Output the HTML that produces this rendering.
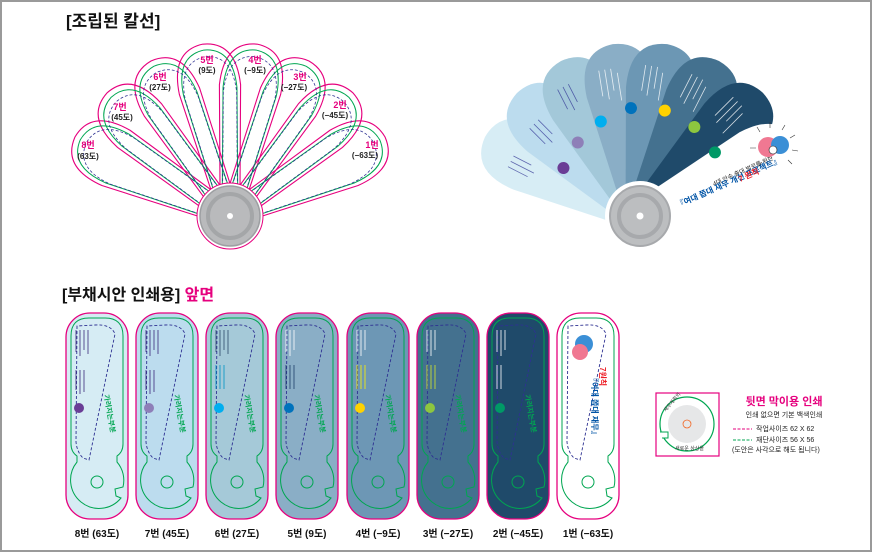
<!DOCTYPE html>
<html><head><meta charset="utf-8"><style>
html,body{margin:0;padding:0;background:#fff}
body{width:872px;height:552px;overflow:hidden;font-family:"Liberation Sans","Noto Sans CJK KR",sans-serif}
svg text{font-family:"Liberation Sans","Noto Sans CJK KR",sans-serif}
</style></head><body>
<svg width="872" height="552" viewBox="0 0 872 552" xmlns="http://www.w3.org/2000/svg">
<defs>
<path id="bl" d="M-9 6 L-31 -128 Q-33 -172 0 -174 Q33 -172 31 -128 L9 6 Z"/>
<path id="blg" d="M-8 0 L-27 -126 Q-29 -166 0 -168 Q29 -166 27 -126 L8 0 Z"/>
<path id="blr" d="M-14 4 L-34 -125 Q-37 -172 0 -174 Q37 -172 34 -125 L14 4 Z"/>
<g id="card">
<rect x="1" y="1" width="62" height="206" rx="24" fill="none" stroke="#e6007e" stroke-width="1.3"/>
<path d="M6,24 Q6,6 24,6 L40,6 Q58,6 58,24 L58,132 Q58,140 52,144 L52,150 A28 28 0 0 1 58 175 L50 177 L51 184 L56 186 A28 28 0 1 1 12 150 L12,144 Q6,140 6,132 Z" fill="none" stroke="#00a651" stroke-width="1"/>
<circle cx="32" cy="170" r="6" fill="none" stroke="#00a651" stroke-width="1"/>
<path d="M12,14 L11,130 Q12,140 18,146 L24,148 L50,22 Q46,12 30,13 Z" fill="none" stroke="#2e3192" stroke-width="0.9" stroke-dasharray="3,2"/>
</g>
</defs>
<rect x="1" y="1" width="870" height="550" fill="#fff" stroke="#9a9a9a" stroke-width="2"/>

<text x="66" y="27" font-size="17" font-weight="bold" fill="#111">[조립된 칼선]</text>

<!-- left fan -->
<g transform="translate(230,216)" fill="none">
<g stroke="#e6007e" stroke-width="1.1">
<use href="#bl" transform="rotate(-63)"/><use href="#bl" transform="rotate(-45)"/><use href="#bl" transform="rotate(-27)"/><use href="#bl" transform="rotate(-9)"/>
<use href="#bl" transform="rotate(9)"/><use href="#bl" transform="rotate(27)"/><use href="#bl" transform="rotate(45)"/><use href="#bl" transform="rotate(63)"/>
</g>
<g stroke="#00a651" stroke-width="1">
<use href="#blg" transform="rotate(-63)"/><use href="#blg" transform="rotate(-45)"/><use href="#blg" transform="rotate(-27)"/><use href="#blg" transform="rotate(-9)"/>
<use href="#blg" transform="rotate(9)"/><use href="#blg" transform="rotate(27)"/><use href="#blg" transform="rotate(45)"/><use href="#blg" transform="rotate(63)"/>
</g>
<g stroke="#2e3192" stroke-width="0.8" stroke-dasharray="3,2" transform="scale(0.96)">
<use href="#blg" transform="rotate(-63)"/><use href="#blg" transform="rotate(-45)"/><use href="#blg" transform="rotate(-27)"/><use href="#blg" transform="rotate(-9)"/>
<use href="#blg" transform="rotate(9)"/><use href="#blg" transform="rotate(27)"/><use href="#blg" transform="rotate(45)"/><use href="#blg" transform="rotate(63)"/>
</g>
<circle r="33" fill="#fff" stroke="#e6007e" stroke-width="1"/>
<circle r="30" fill="#b9babc" stroke="#9d9fa2" stroke-width="1.5"/>
<circle r="22" fill="none" stroke="#a4a6a8" stroke-width="4"/>
<circle r="3" fill="#fff"/>
</g>
<g font-size="9" font-weight="bold" text-anchor="middle">
<g fill="#e6007e">
<text x="207" y="63">5번</text><text x="255" y="63">4번</text><text x="160" y="80">6번</text><text x="300" y="80">3번</text>
<text x="120" y="110">7번</text><text x="340" y="108">2번</text><text x="88" y="148">8번</text><text x="372" y="148">1번</text></g>
<g fill="#222" font-size="8">
<text x="207" y="73">(9도)</text><text x="255" y="73">(−9도)</text><text x="160" y="90">(27도)</text><text x="294" y="90">(−27도)</text>
<text x="122" y="120">(45도)</text><text x="335" y="118">(−45도)</text><text x="88" y="159">(63도)</text><text x="365" y="158">(−63도)</text></g>
</g>

<!-- right fan -->
<g transform="translate(640,216)">
<use href="#blr" fill="#d7edf5" transform="rotate(-63)"/>
<use href="#blr" fill="#bcdcee" transform="rotate(-45)"/>
<use href="#blr" fill="#a3c8d9" transform="rotate(-27)"/>
<use href="#blr" fill="#8aaec6" transform="rotate(-9)"/>
<use href="#blr" fill="#6c97b4" transform="rotate(9)"/>
<use href="#blr" fill="#44718f" transform="rotate(27)"/>
<use href="#blr" fill="#1f4a6a" transform="rotate(45)"/>
<path d="M-14 4 L-36 -125 Q-39 -172 0 -174 Q39 -172 36 -125 L14 4 Z" fill="#fff" transform="rotate(66)"/>
<circle r="35" fill="#fff"/>
<circle r="30" fill="#bcbec0" stroke="#a7a9ac" stroke-width="2"/>
<circle r="21" fill="none" stroke="#a7a9ac" stroke-width="4"/>
<circle r="3.5" fill="#fff"/>
<g>
<g transform="rotate(-63)"><circle cx="8" cy="-90" r="6" fill="#6a3d96"/></g>
<g transform="rotate(-45)"><circle cx="8" cy="-96" r="6" fill="#8e7fb8"/></g>
<g transform="rotate(-27)"><circle cx="8" cy="-102" r="6" fill="#00aeef"/></g>
<g transform="rotate(-9)"><circle cx="8" cy="-108" r="6" fill="#0072bc"/></g>
<g transform="rotate(9)"><circle cx="8" cy="-108" r="6" fill="#ffd200"/></g>
<g transform="rotate(27)"><circle cx="8" cy="-104" r="6" fill="#8dc63f"/></g>
<g transform="rotate(45)"><circle cx="8" cy="-98" r="6" fill="#009966"/></g>
</g>
<g stroke="#fff" stroke-width="0.8" opacity="0.8">
<g transform="rotate(-9)"><path d="M-18 -150 v26 M-12 -150 v30 M-6 -150 v22 M0 -145 v28"/></g>
<g transform="rotate(9)"><path d="M-18 -150 v26 M-12 -150 v30 M-6 -150 v22 M0 -145 v28"/></g>
<g transform="rotate(27)"><path d="M-18 -150 v26 M-12 -150 v30 M-6 -150 v22 M0 -145 v28"/></g>
<g transform="rotate(45)"><path d="M-18 -150 v26 M-12 -150 v30 M-6 -150 v22 M0 -145 v28"/></g>
</g>
<g stroke="#2e3192" stroke-width="0.8" opacity="0.7">
<g transform="rotate(-63)"><path d="M-16 -140 v22 M-10 -140 v26 M-4 -140 v20"/></g>
<g transform="rotate(-45)"><path d="M-16 -140 v22 M-10 -140 v26 M-4 -140 v20"/></g>
<g transform="rotate(-27)"><path d="M-16 -150 v22 M-10 -150 v26 M-4 -150 v20"/></g>
</g>
</g>
<text x="714" y="186" font-size="6" fill="#222" transform="rotate(-24 714 186)">4대 안속 출대 벌로를 위한</text>
<text x="678" y="208" font-size="8" font-weight="bold" fill="#0054a6" transform="rotate(-24 678 208)">『여대 쫍대 재무 개선 프로젝트』</text>
<text x="740" y="182" font-size="8" font-weight="bold" fill="#ed1c24" transform="rotate(-24 740 182)">7 원칙</text>
<circle cx="768" cy="147" r="10" fill="#f07892"/><circle cx="780" cy="145" r="9" fill="#3b8fd6"/>
<circle cx="773" cy="150" r="4" fill="#fff" stroke="#222" stroke-width="0.6"/>
<g stroke="#333" stroke-width="0.6"><path d="M760 132 l-3 -5 M770 128 l0 -6 M782 130 l3 -5 M790 138 l5 -3 M792 150 l6 1 M788 160 l4 4 M762 162 l-3 4 M756 148 l-6 0"/></g>

<!-- bottom section -->
<text x="62" y="300" font-size="16" font-weight="bold" fill="#111">[부채시안 인쇄용] <tspan fill="#e6007e">앞면</tspan></text>

<g>
<g transform="translate(65,312)"><rect x="1" y="1" width="62" height="206" rx="24" fill="#d6ecf4"/><use href="#card"/><circle cx="14" cy="96" r="5" fill="#6a3d96"/></g>
<g transform="translate(135,312)"><rect x="1" y="1" width="62" height="206" rx="24" fill="#bcdcee"/><use href="#card"/><circle cx="14" cy="96" r="5" fill="#8e7fb8"/></g>
<g transform="translate(205,312)"><rect x="1" y="1" width="62" height="206" rx="24" fill="#a5c9d8"/><use href="#card"/><circle cx="14" cy="96" r="5" fill="#00aeef"/></g>
<g transform="translate(275,312)"><rect x="1" y="1" width="62" height="206" rx="24" fill="#8aaec6"/><use href="#card"/><circle cx="14" cy="96" r="5" fill="#0072bc"/></g>
<g transform="translate(346,312)"><rect x="1" y="1" width="62" height="206" rx="24" fill="#6d97b5"/><use href="#card"/><circle cx="14" cy="96" r="5" fill="#ffd200"/></g>
<g transform="translate(416,312)"><rect x="1" y="1" width="62" height="206" rx="24" fill="#44718f"/><use href="#card"/><circle cx="14" cy="96" r="5" fill="#8dc63f"/></g>
<g transform="translate(486,312)"><rect x="1" y="1" width="62" height="206" rx="24" fill="#1f4a6a"/><use href="#card"/><circle cx="14" cy="96" r="5" fill="#009966"/></g>
<g transform="translate(556,312)"><rect x="1" y="1" width="62" height="206" rx="24" fill="#fff"/><use href="#card"/>
<circle cx="28" cy="32" r="9" fill="#3b8fd6"/><circle cx="24" cy="40" r="8" fill="#f07892"/>
<text x="0" y="0" font-size="8" font-weight="bold" fill="#0054a6" transform="translate(36,62) rotate(90)">『여대 쫍대 재무』</text>
<text x="0" y="0" font-size="8" font-weight="bold" fill="#ed1c24" transform="translate(44,55) rotate(90)">7원칙</text>
</g>
</g>
<g font-size="7" font-weight="bold" fill="#00a651">
<text transform="translate(104,395) rotate(80)">가려지는부분</text>
<text transform="translate(174,395) rotate(80)">가려지는부분</text>
<text transform="translate(244,395) rotate(80)">가려지는부분</text>
<text transform="translate(314,395) rotate(80)">가려지는부분</text>
<text transform="translate(385,395) rotate(80)">가려지는부분</text>
<text transform="translate(455,395) rotate(80)">가려지는부분</text>
<text transform="translate(525,395) rotate(80)">가려지는부분</text>
</g>
<g stroke-width="0.8">
<g stroke="#3c2a7a"><path d="M76 330v22M80 330v26M84 330v20M88 330v24M76 370v20M80 370v24M84 370v22"/></g>
<g stroke="#3c2a7a"><path d="M146 330v22M150 330v26M154 330v20M158 330v24M146 370v20M150 370v24M154 370v22"/></g>
<g stroke="#2e4a6a"><path d="M216 330v22M220 330v26M224 330v20M228 330v24"/></g><g stroke="#0093c4"><path d="M216 365v24M220 365v24M224 365v24"/></g>
<g stroke="#fff"><path d="M286 330v22M290 330v26M294 330v20"/></g><g stroke="#1f3f6a"><path d="M286 365v24M290 365v24M294 365v24"/></g>
<g stroke="#fff"><path d="M357 330v22M361 330v26M365 330v20"/></g><g stroke="#fff200"><path d="M357 365v24M361 365v24M365 365v24"/></g>
<g stroke="#fff"><path d="M427 330v22M431 330v26M435 330v20"/></g><g stroke="#d7e92b"><path d="M427 365v24M431 365v24M435 365v24"/></g>
<g stroke="#fff"><path d="M497 330v22M501 330v26M505 330v20M497 365v24M501 365v24"/></g>
</g>
<g font-size="10" font-weight="bold" fill="#111" text-anchor="middle">
<text x="97" y="537">8번 (63도)</text><text x="167" y="537">7번 (45도)</text><text x="237" y="537">6번 (27도)</text><text x="307" y="537">5번 (9도)</text>
<text x="378" y="537">4번 (−9도)</text><text x="448" y="537">3번 (−27도)</text><text x="518" y="537">2번 (−45도)</text><text x="588" y="537">1번 (−63도)</text>
</g>

<!-- back side box -->
<rect x="656" y="393" width="63" height="63" fill="#fff" stroke="#e6007e" stroke-width="1.2"/>
<circle cx="687" cy="424" r="27" fill="#fff" stroke="#00a651" stroke-width="1.2"/>
<circle cx="687" cy="424" r="19" fill="#e6e7e8"/>
<circle cx="687" cy="424" r="4" fill="none" stroke="#f26522" stroke-width="0.8"/>
<path d="M660 432 h8 v6 h-6" fill="#fff" stroke="#00a651" stroke-width="1"/>
<g font-size="5" fill="#333">
<text transform="translate(666,412) rotate(-50)">재무계획의</text>
<text x="675" y="450">새로운 상상을</text>
</g>
<text x="784" y="405" font-size="11" font-weight="bold" fill="#e6007e" text-anchor="middle">뒷면 막이용 인쇄</text>
<text x="784" y="417" font-size="7" fill="#222" text-anchor="middle">인쇄 없으면 기본 백색인쇄</text>
<line x1="733" y1="429" x2="752" y2="429" stroke="#e6007e" stroke-width="1" stroke-dasharray="3,1.5"/>
<text x="756" y="431" font-size="7" fill="#222">작업사이즈 62 X 62</text>
<line x1="733" y1="440" x2="752" y2="440" stroke="#00a651" stroke-width="1" stroke-dasharray="3,1.5"/>
<text x="756" y="442" font-size="7" fill="#222">재단사이즈 56 X 56</text>
<text x="732" y="452" font-size="7" fill="#222">(도안은 사각으로 해도 됩니다)</text>
</svg>
</body></html>
